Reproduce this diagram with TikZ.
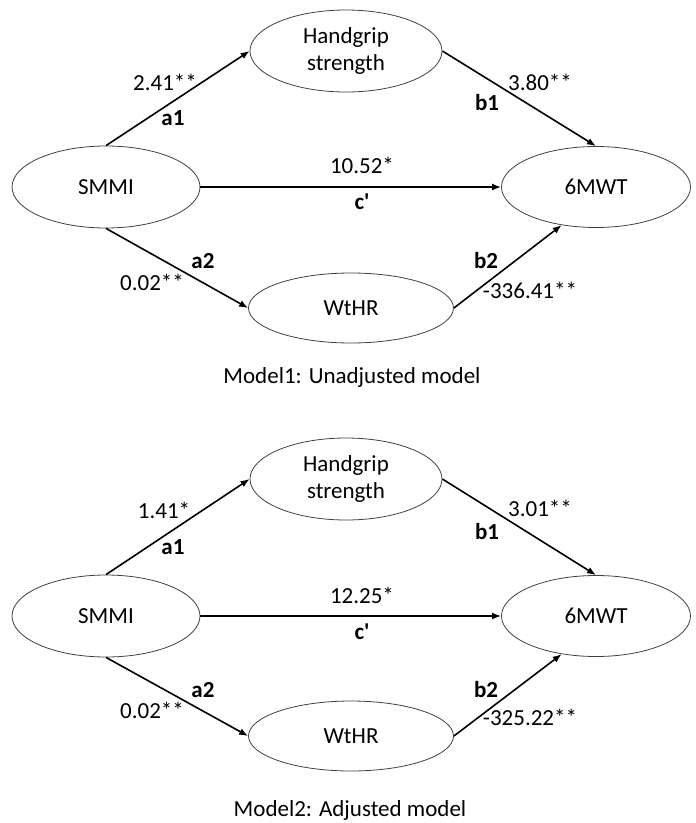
\documentclass[tikz,border=0pt]{standalone}
\usepackage{fontspec}
\setmainfont{Carlito}
\usepackage{tikz}
\usetikzlibrary{arrows.meta, shapes, positioning}
\tikzset{
    textnode/.style  = {draw=none, fill=none, rectangle, minimum size=0cm, inner sep = 0em,
      node distance=0em, font=\fontsize{23}{27}\selectfont},
    boldnode/.style  = {textnode, font=\fontsize{23}{27}\selectfont\bfseries},
    ellipsenode/.style = {draw=black!75, line width=0.8pt, ellipse, inner sep = 0em, node distance=0em,
      minimum height=82pt, minimum width=190pt, font=\fontsize{23}{27}\selectfont},
    connect/.style = {black, line width=1.6pt, -{Latex[length=9pt,width=7pt]}},
    every text node part/.style={align=center}
}

\begin{document}
\begin{tikzpicture}
    \useasboundingbox (0,0) rectangle (696pt,-823pt);

    % Model 1
    \node [name=smmi1, ellipsenode, minimum width=188pt] at (106pt,-187pt) {SMMI};
    \node [name=grip1, ellipsenode, minimum width=192pt,
        right of = smmi1, xshift=240pt, yshift=136pt] {Handgrip\\strength};
    \node [name=mwt1, ellipsenode, minimum width=189pt, minimum height=81pt,
        right of = smmi1, xshift=490pt] {6MWT};
    \node [name=wthr1, ellipsenode, minimum width=205pt, minimum height=70pt,
        right of = smmi1, xshift=245pt, yshift=-121pt] {WtHR};

    \draw [connect] (smmi1.north) -- (grip1.west);
    \draw [connect] (grip1.east) -- (mwt1.north);
    \draw [connect] (smmi1.east) -- (mwt1.west);
    \draw [connect] (smmi1.south) -- (wthr1.west);
    \draw [connect] (wthr1.east) -- (mwt1.228);

    \node [textnode, name=wa11, right of = smmi1, xshift=59pt, yshift=105pt] {2.41**};
    \node [boldnode, name=la11, right of = smmi1, xshift=67pt, yshift=69pt] {a1};
    \node [textnode, name=wb11, right of = smmi1, xshift=434pt, yshift=105pt] {3.80**};
    \node [boldnode, name=lb11, right of = smmi1, xshift=381pt, yshift=84pt] {b1};
    \node [textnode, name=wc1, right of = smmi1, xshift=256pt, yshift=22pt] {10.52*};
    \node [boldnode, name=lc1, right of = smmi1, xshift=256pt, yshift=-15pt] {c\textquotesingle};
    \node [boldnode, name=la21, right of = smmi1, xshift=97pt, yshift=-74pt] {a2};
    \node [textnode, name=wa21, right of = smmi1, xshift=46pt, yshift=-95pt] {0.02**};
    \node [boldnode, name=lb21, right of = smmi1, xshift=380pt, yshift=-74pt] {b2};
    \node [textnode, name=wb21, right of = smmi1, xshift=424pt, yshift=-103pt] {-336.41**};
    \node [textnode, name=cap1, right of = smmi1, xshift=246pt, yshift=-190pt] {Model1: Unadjusted model};

    % Model 2
    \node [name=smmi2, ellipsenode, minimum width=188pt] at (106pt,-616pt) {SMMI};
    \node [name=grip2, ellipsenode, minimum width=192pt,
        right of = smmi2, xshift=240pt, yshift=137pt] {Handgrip\\strength};
    \node [name=mwt2, ellipsenode, minimum width=189pt, minimum height=81pt,
        right of = smmi2, xshift=490pt] {6MWT};
    \node [name=wthr2, ellipsenode, minimum width=205pt, minimum height=70pt,
        right of = smmi2, xshift=245pt, yshift=-120pt] {WtHR};

    \draw [connect] (smmi2.north) -- (grip2.west);
    \draw [connect] (grip2.east) -- (mwt2.north);
    \draw [connect] (smmi2.east) -- (mwt2.west);
    \draw [connect] (smmi2.south) -- (wthr2.west);
    \draw [connect] (wthr2.east) -- (mwt2.228);

    \node [textnode, name=wa12, right of = smmi2, xshift=58pt, yshift=106pt] {1.41*};
    \node [boldnode, name=la12, right of = smmi2, xshift=67pt, yshift=69pt] {a1};
    \node [textnode, name=wb12, right of = smmi2, xshift=434pt, yshift=108pt] {3.01**};
    \node [boldnode, name=lb12, right of = smmi2, xshift=381pt, yshift=84pt] {b1};
    \node [textnode, name=wc2, right of = smmi2, xshift=256pt, yshift=21pt] {12.25*};
    \node [boldnode, name=lc2, right of = smmi2, xshift=256pt, yshift=-16pt] {c\textquotesingle};
    \node [boldnode, name=la22, right of = smmi2, xshift=97pt, yshift=-74pt] {a2};
    \node [textnode, name=wa22, right of = smmi2, xshift=46pt, yshift=-94pt] {0.02**};
    \node [boldnode, name=lb22, right of = smmi2, xshift=380pt, yshift=-74pt] {b2};
    \node [textnode, name=wb22, right of = smmi2, xshift=424pt, yshift=-101pt] {-325.22**};
    \node [textnode, name=cap2, right of = smmi2, xshift=244pt, yshift=-194pt] {Model2: Adjusted model};
\end{tikzpicture}
\end{document}
